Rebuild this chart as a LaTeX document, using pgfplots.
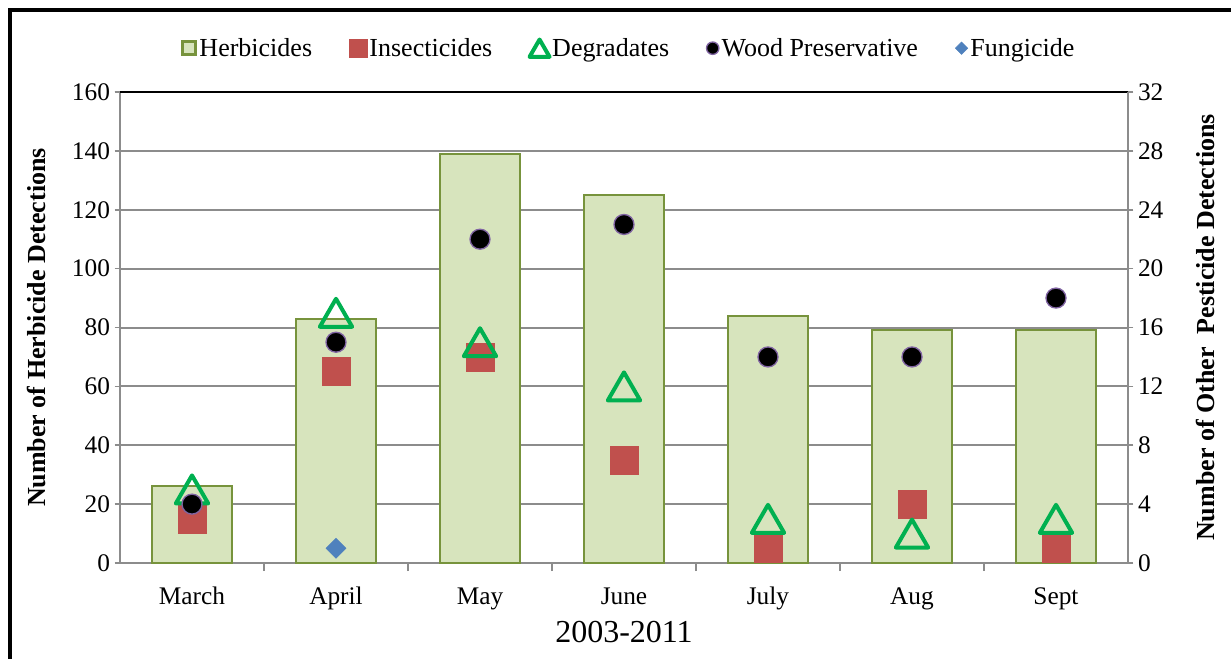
\documentclass[border=0pt]{standalone}
\usepackage{pgfplots}
\pgfplotsset{compat=1.18}
\usepackage{pgfplotstable}
\usepackage{fontspec}
\setmainfont{Liberation Serif}

\definecolor{herbfill}{HTML}{D7E4BD}
\definecolor{herbedge}{HTML}{77933C}
\definecolor{insred}{HTML}{C0504D}
\definecolor{deggreen}{HTML}{00B050}
\definecolor{woodedge}{HTML}{8064A2}
\definecolor{fungblue}{HTML}{4F81BD}
\definecolor{gridgray}{HTML}{8C8C8C}

% herbicides on the left axis, the rest on the right axis
\pgfplotstableread{
x herb ins deg wood
0 26  3  5  4
1 83  13 17 15
2 139 14 15 22
3 125 7  12 23
4 84  1  3  14
5 79  4  2  14
6 79  1  3  18
}\datatable

\pgfplotsset{
  mybase/.style={
    scale only axis, width=756pt, height=353.25pt,
    at={(90pt,71.25pt)}, anchor=south west,
    xmin=-0.5, xmax=6.5,
    tick label style={font=\fontsize{19}{19}\selectfont},
    /pgf/number format/assume math mode=true,
    tick align=outside, major tick length=4pt,
    tick style={gridgray, line width=1.2pt},
    axis line style={-, gridgray, line width=1.5pt},
    ylabel style={font=\bfseries\fontsize{19.5}{19.5}\selectfont, anchor=center},
  }
}

\begin{document}
\begin{tikzpicture}
\useasboundingbox (0,0) rectangle (923.25pt,493.5pt);
\draw[line width=3pt] (7.7pt,-5pt) -- (7.7pt,486pt) -- (930pt,486pt);

\begin{axis}[mybase,
  ymin=0, ymax=160, ytick distance=20,
  axis y line*=left, axis x line*=bottom,
  ymajorgrids, grid style={gridgray, line width=1.5pt},
  extra y ticks={160}, extra y tick labels={},
  extra y tick style={grid style={black, line width=1.5pt}},
  xtick={0,...,6},
  xticklabels={March,April,May,June,July,Aug,Sept},
  major x tick style={draw=none},
  minor xtick={0.5,1.5,...,5.5}, minor tick length=6pt,
  xticklabel style={anchor=base, yshift=-27pt},
  xlabel={2003-2011},
  xlabel style={font=\fontsize{24}{24}\selectfont, at={(axis description cs:0.5,0)}, anchor=center, yshift=-51.75pt},
  ylabel={Number of Herbicide Detections},
  ylabel style={at={(axis description cs:-0.0833,0.5)}},
]
\addplot[ybar, bar width=0.55, fill=herbfill, draw=herbedge, line width=1.5pt]
  table[x=x, y=herb] {\datatable};
\end{axis}

\begin{axis}[mybase,
  ymin=0, ymax=32, ytick distance=4,
  axis y line*=right, axis x line=none,
  ylabel={Number of Other\ \ Pesticide Detections},
  ylabel style={at={(axis description cs:1.0764,0.5)}},
  legend style={at={(0.505,1.093)}, anchor=center, draw=none, fill=none,
    legend columns=-1, font=\fontsize{19.5}{19.5}\selectfont,
    /tikz/every even column/.append style={column sep=26pt}},
  legend image post style={scale=0.62},
]
\addlegendimage{legend image code/.code={
  \draw[fill=herbfill, draw=herbedge, line width=2pt] (0.02cm,-0.28cm) rectangle (0.58cm,0.28cm);}}
\addlegendentry{Herbicides}
\addplot[only marks, mark=square*, mark size=10.5pt, mark options={fill=insred, draw=insred}]
  table[x=x, y=ins] {\datatable};
\addlegendentry{Insecticides}
\addplot[only marks, mark=triangle, mark size=14pt,
  mark options={draw=deggreen, line width=3pt, line join=round, yshift=-3.5pt}]
  table[x=x, y=deg] {\datatable};
\addlegendentry{Degradates}
\addplot[only marks, mark=*, mark size=7.5pt, mark options={fill=black, draw=woodedge, line width=1pt}]
  table[x=x, y=wood] {\datatable};
\addlegendentry{Wood Preservative}
\addplot[only marks, mark=square*, mark size=5.3pt, mark options={rotate=45, fill=fungblue, draw=fungblue}]
  coordinates {(1,1)};
\addlegendentry{Fungicide}
\end{axis}
\end{tikzpicture}
\end{document}
